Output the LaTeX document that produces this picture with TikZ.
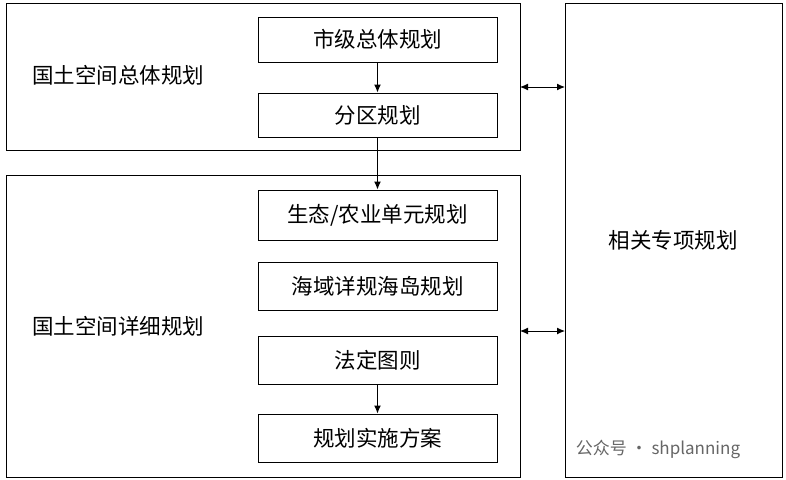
\documentclass[tikz,border=0pt]{standalone}
\usepackage{fontspec}
\newfontfamily\cjk{Noto Sans CJK SC}
\usetikzlibrary{arrows.meta}
\begin{document}
\begin{tikzpicture}[x=1pt,y=-1pt,
  box/.style={draw=black,line width=1pt,inner sep=0pt},
  inbox/.style={draw=black,line width=1pt,minimum width=239pt,inner sep=0pt,font=\cjk\fontsize{21.5}{24}\selectfont},
  lab/.style={font=\cjk\fontsize{21.5}{24}\selectfont},
  arr/.style={-{Latex[length=8pt,width=7pt]},line width=1pt},
  darr/.style={{Latex[length=8pt,width=7pt]}-{Latex[length=8pt,width=7pt]},line width=1pt}]
\useasboundingbox (0,0) rectangle (786,479);
\draw[box] (6,3) rectangle (520,150);
\coordinate (o1r) at (520,87);
\draw[box] (6,175) rectangle (520,477);
\coordinate (o2r) at (520,331);
\draw[box] (565,3) rectangle (782,477);
\coordinate (r1) at (565,87);
\coordinate (r2) at (565,331);
\node[lab] at (673,240) {相关专项规划};
\node[lab] at (118,75) {国土空间总体规划};
\node[lab] at (118,326) {国土空间详细规划};
\node[inbox,minimum height=45pt] (a) at (377.5,39.5) {市级总体规划};
\node[inbox,minimum height=44pt] (b) at (377.5,115) {分区规划};
\node[inbox,minimum height=50pt] (c) at (377.5,215) {生态/农业单元规划};
\node[inbox,minimum height=48pt] (d) at (377.5,286) {海域详规海岛规划};
\node[inbox,minimum height=48pt] (e) at (377.5,360) {法定图则};
\node[inbox,minimum height=48pt] (f) at (377.5,438) {规划实施方案};
\draw[arr] (a) -- (b);
\draw[arr] (b) -- (c);
\draw[arr] (e) -- (f);
\draw[darr] (o1r) -- (r1);
\draw[darr] (o2r) -- (r2);
\node[font=\cjk\fontsize{17}{18}\selectfont,text=black!60] (w) at (658,449) {公众号 · shplanning};
\end{tikzpicture}
\end{document}
